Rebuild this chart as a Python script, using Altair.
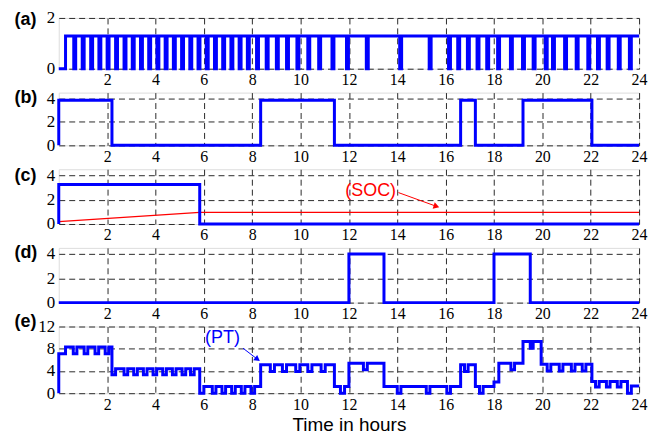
import altair as alt
import pandas as pd

X_TICKS = [2, 4, 6, 8, 10, 12, 14, 16, 18, 20, 22, 24]
BLUE = "#0000ff"
RED = "#ff0000"

# ---------------- (a) switching signal ----------------
a_high = 1.29
a_first_rise = 0.28
a_fall = [0.62, 0.97, 1.32, 1.66, 2.00, 2.35, 2.70, 3.04, 3.38, 3.72, 4.06, 4.40,
          4.74, 5.08, 5.42, 5.76, 6.10, 6.44, 6.78, 7.12, 7.46, 7.80, 8.18, 8.58,
          9.00, 9.42, 9.85, 10.30, 10.75, 11.30, 11.90, 12.72, 14.10, 15.32, 16.12,
          16.50, 16.90, 17.30, 17.70, 18.15, 18.68, 19.18, 19.62, 20.12, 20.42,
          20.92, 21.40, 21.88, 22.28, 22.68, 23.14, 23.60]
a_rise = [0.70, 1.05, 1.40, 1.74, 2.08, 2.43, 2.78, 3.12, 3.46, 3.80, 4.14, 4.48,
          4.82, 5.16, 5.50, 5.84, 6.18, 6.52, 6.86, 7.20, 7.54, 7.88, 8.26, 8.66,
          9.08, 9.50, 9.93, 10.38, 10.83, 11.38, 11.98, 12.80, 14.18, 15.40, 16.20,
          16.58, 16.98, 17.38, 17.78, 18.23, 18.76, 19.26, 19.70, 20.20, 20.50,
          21.00, 21.48, 21.96, 22.36, 22.76, 23.22, 23.68]

# ---------------- (b) ----------------
b_t = [0, 0, 2.20, 8.35, 11.40, 16.62, 17.23, 19.20, 22.05, 24]
b_v = [0, 3.85, 0, 3.85, 0, 3.85, 0, 3.85, 0, 0]

# ---------------- (c) ----------------
c_t = [0, 0, 5.83, 24]
c_v = [0, 3.25, 0, 0]
soc_t = [0, 5.83, 24]
soc_v = [0.2, 0.95, 0.95]

# ---------------- (d) ----------------
d_t = [0, 12.0, 13.45, 18.0, 19.5, 24]
d_v = [0, 4.0, 0, 4.0, 0, 0]

# ---------------- (e) PT ----------------
e_t = [0, 0, 0.28, 0.60, 0.75, 1.05, 1.20, 1.50, 1.65, 1.92, 2.07,
       2.20, 2.35, 2.70, 2.85, 3.10, 3.25, 3.50, 3.65, 3.90, 4.05, 4.30, 4.45,
       4.70, 4.85, 5.10, 5.25, 5.45, 5.60,
       5.83, 6.00, 6.35, 6.50, 6.75, 6.90, 7.15, 7.30, 7.55, 7.70, 7.95, 8.10,
       8.35, 8.75, 8.92, 9.25, 9.42, 9.80, 9.97, 10.30, 10.47, 10.85, 11.02,
       11.40, 11.65, 11.82, 12.00, 12.60, 12.76, 13.45, 14.00, 14.15, 15.20,
       15.35, 16.05, 16.20, 16.62, 16.78, 16.93, 17.23, 17.40, 17.55, 18.00,
       18.20, 18.70, 18.85, 19.20, 19.50, 19.62, 19.95, 20.20, 20.35, 20.70,
       20.85, 21.20, 21.35, 21.65, 21.80, 22.05, 22.20, 22.35, 22.65, 22.80,
       23.10, 23.25, 23.52, 23.68, 24.0]
e_v = [0, 7.1, 8.3, 7.1, 8.3, 7.1, 8.3, 7.1, 8.3, 7.1, 8.3,
       3.3, 4.4, 3.3, 4.4, 3.3, 4.4, 3.3, 4.4, 3.3, 4.4, 3.3, 4.4,
       3.3, 4.4, 3.3, 4.4, 3.3, 4.4,
       0, 1.2, 0, 1.2, 0, 1.2, 0, 1.2, 0, 1.2, 0, 1.2,
       5.1, 3.9, 5.1, 3.9, 5.1, 3.9, 5.1, 3.9, 5.1, 3.9, 5.1,
       1.2, 0, 1.2, 5.4, 4.2, 5.4, 1.2, 0, 1.2, 0,
       1.2, 0, 1.2, 5.1, 3.9, 5.1, 1.2, 0, 1.2, 2.0,
       5.4, 4.2, 5.4, 9.3, 8.1, 9.3, 5.2, 4.0, 5.2, 4.0,
       5.2, 4.0, 5.2, 4.0, 5.2, 2.1, 1.1, 2.1, 1.1, 2.1,
       1.1, 2.1, 0, 1.3, 1.3]

# annotations
soc_label = ["(SOC)"]
soc_label_pos = [12.9, 2.75]
soc_arrow = [14.05, 2.58, 15.62, 1.45]
pt_label = ["(PT)"]
pt_label_pos = [6.77, 9.9]
pt_arrow = [7.62, 8.1, 8.22, 6.1]

# ---------------- helpers ----------------
a_t = [0, a_first_rise]
a_v = [0, a_high]
for f, r in zip(a_fall, a_rise):
    a_t += [f, r]
    a_v += [0, a_high]
a_t.append(24)
a_v.append(a_high)


def frame(ts, vs):
    return pd.DataFrame({"t": ts, "v": vs, "i": list(range(len(ts)))})


XS = alt.Scale(domain=[0, 24], nice=False, zero=False)
GRID_DASH = [6, 4]
GRID_COLOR = "#2a2a2a"


def xaxis(title=None):
    kw = dict(values=X_TICKS, grid=True, gridDash=GRID_DASH, gridColor=GRID_COLOR,
              gridWidth=1, ticks=False, tickSize=0, domain=False, format="d",
              labelFont="Liberation Serif", labelFontSize=16, labelPadding=3,
              labelFlush=False, labelColor="black", labelOverlap=False)
    if title:
        return alt.Axis(title=title, titleFont="Liberation Sans", titleFontSize=19,
                        titleFontWeight="normal", titlePadding=3, titleColor="black", **kw)
    return alt.Axis(title=None, **kw)


def yaxis(label, vals, ty):
    return alt.Axis(values=vals, title=label, titleAngle=0, titleX=-45, titleY=ty,
                    titleAlign="left", titleBaseline="middle",
                    titleFont="Liberation Sans", titleFontWeight="bold",
                    titleFontSize=18, titleColor="black", format="d",
                    grid=True, gridDash=GRID_DASH, gridColor=GRID_COLOR, gridWidth=1,
                    ticks=False, tickSize=0, domain=False,
                    labelFont="Liberation Serif", labelFontSize=17, labelPadding=4,
                    labelFlush=False, labelColor="black", labelOverlap=False)


def step(df, ys, xa, ya, color=BLUE, width=3, interp="step-after"):
    return alt.Chart(df).mark_line(color=color, strokeWidth=width,
                                   interpolate=interp).encode(
        x=alt.X("t:Q", scale=XS, axis=xa),
        y=alt.Y("v:Q", scale=ys, axis=ya),
        order="i:Q",
    )


def label_text(txt, pos, color, ys, xa, ya):
    df = pd.DataFrame({"t": [pos[0]], "v": [pos[1]], "s": txt})
    return alt.Chart(df).mark_text(color=color, font="Liberation Sans", fontSize=18,
                                   align="center", baseline="middle").encode(
        x=alt.X("t:Q", scale=XS, axis=xa), y=alt.Y("v:Q", scale=ys, axis=ya), text="s:N")


def arrow(coords, color, angle, ys, xa, ya):
    df = pd.DataFrame({"t": [coords[0]], "v": [coords[1]],
                       "t2": [coords[2]], "v2": [coords[3]]})
    line = alt.Chart(df).mark_rule(color=color, strokeWidth=1).encode(
        x=alt.X("t:Q", scale=XS, axis=xa), y=alt.Y("v:Q", scale=ys, axis=ya),
        x2="t2:Q", y2="v2:Q")
    head = alt.Chart(df).mark_point(shape="triangle-right", filled=True, color=color,
                                    size=45, angle=angle, opacity=1).encode(
        x=alt.X("t2:Q", scale=XS, axis=xa), y=alt.Y("v2:Q", scale=ys, axis=ya))
    return line + head


W = 583

# (a)
ys_a = alt.Scale(domain=[0, 2], nice=False, zero=False)
xa, ya = xaxis(), yaxis("(a)", [0, 1, 2], 2)
pa = step(frame(a_t, a_v), ys_a, xa, ya).properties(width=W, height=51)

# (b)
ys_b = alt.Scale(domain=[0, 4.5], nice=False, zero=False)
xa, ya = xaxis(), yaxis("(b)", [0, 2, 4], 5)
pb = step(frame(b_t, b_v), ys_b, xa, ya).properties(width=W, height=53)

# (c)
ys_c = alt.Scale(domain=[0, 4.5], nice=False, zero=False)
xa, ya = xaxis(), yaxis("(c)", [0, 2, 4], 6)
pc = alt.layer(
    step(frame(soc_t, soc_v), ys_c, xa, ya, color=RED, width=1.2, interp="linear"),
    step(frame(c_t, c_v), ys_c, xa, ya),
    label_text(soc_label, soc_label_pos, RED, ys_c, xa, ya),
    arrow(soc_arrow, RED, 18, ys_c, xa, ya),
).properties(width=W, height=55)

# (d)
ys_d = alt.Scale(domain=[0, 4.5], nice=False, zero=False)
xa, ya = xaxis(), yaxis("(d)", [0, 2, 4], 5)
pdd = step(frame(d_t, d_v), ys_d, xa, ya).properties(width=W, height=55)

# (e)
ys_e = alt.Scale(domain=[0, 12], nice=False, zero=False)
xa, ya = xaxis("Time in hours"), yaxis("(e)", [0, 4, 8, 12], -5)
pe = alt.layer(
    step(frame(e_t, e_v), ys_e, xa, ya),
    label_text(pt_label, pt_label_pos, BLUE, ys_e, xa, ya),
    arrow(pt_arrow, BLUE, 37, ys_e, xa, ya),
).properties(width=W, height=67)

chart = alt.vconcat(pa, pb, pc, pdd, pe, spacing=24, bounds="flush").properties(
    padding={"left": 5, "top": -1, "right": 5, "bottom": 0}
).configure_view(stroke="black", strokeWidth=1).configure(background="white")

chart.save("out.html", embed_options={"renderer": "svg", "actions": False})
